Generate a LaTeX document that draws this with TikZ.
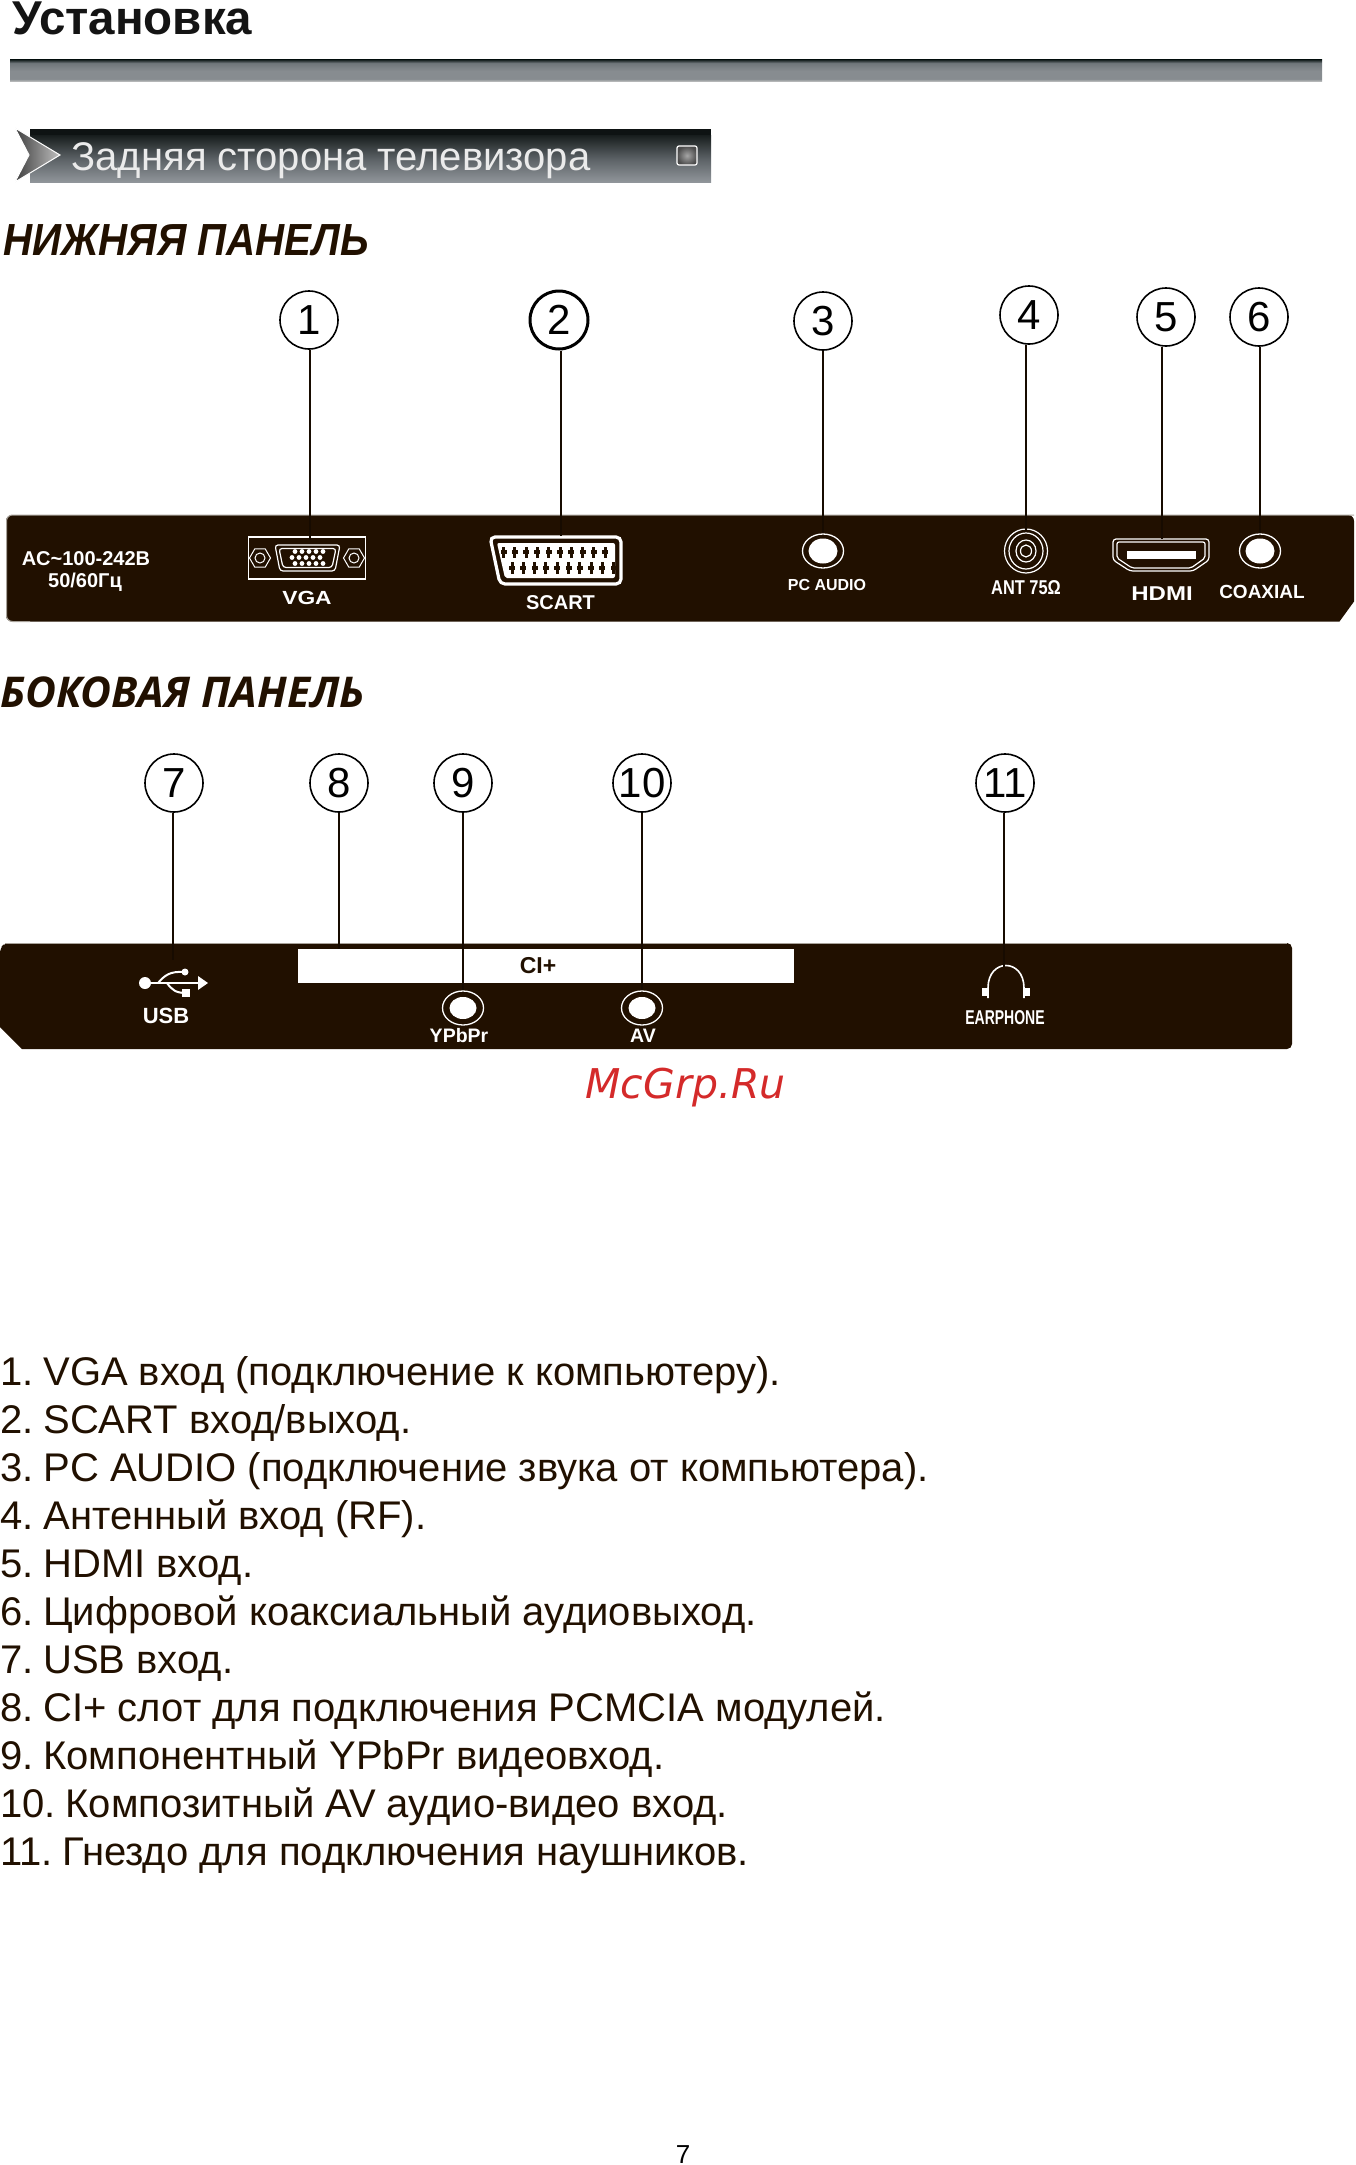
\documentclass[tikz,border=0pt]{standalone}
\usepackage{fontspec}
\usetikzlibrary{shapes.geometric}
\setmainfont{Liberation Sans}
\newfontfamily\tallfont[FakeStretch=.895]{Liberation Sans}
\newfontfamily\narrowfont[FakeStretch=.82]{Liberation Sans}
\newfontfamily\thinfont[FakeStretch=.7]{Liberation Sans}
\newfontfamily\widefont[FakeStretch=1.2]{Liberation Sans}
\newfontfamily\sidefont{Open Sans}
\newfontfamily\markfont{DejaVu Sans}
\newcommand{\pxfont}[1]{\fontsize{#1}{#1}\selectfont}
\definecolor{panel}{HTML}{211000}
\definecolor{edge}{HTML}{A8A29A}
\definecolor{markred}{HTML}{D42A2A}
\definecolor{ruleA}{HTML}{1C2626}
\definecolor{ruleB}{HTML}{6F767A}
\definecolor{ruleC}{HTML}{878C90}
\definecolor{ruleD}{HTML}{CACACA}
\definecolor{bandA}{HTML}{1A2020}
\definecolor{bandB}{HTML}{5C6266}
\definecolor{bandC}{HTML}{90959A}
\pgfdeclareverticalshading{ruleshade}{100bp}{color(0bp)=(ruleD); color(25bp)=(ruleD); color(32bp)=(ruleC); color(50bp)=(ruleC); color(68bp)=(ruleB); color(75bp)=(ruleA); color(100bp)=(ruleA)}
\pgfdeclareverticalshading{bandshade}{100bp}{color(0bp)=(bandC); color(25bp)=(bandC); color(50bp)=(bandB); color(75bp)=(bandA); color(100bp)=(bandA)}
\tikzset{
  callout/.style={draw=black,circle,fill=white,line width=1.6,inner sep=0,minimum size=58,font=\pxfont{42}},
  lead/.style={draw=panel!70!black,line width=2.2},
  heading/.style={anchor=base west,text=panel,font=\tallfont\pxfont{45}\bfseries\itshape},
  item/.style={anchor=base west,text=panel,inner xsep=0,font=\pxfont{40}},
  tag/.style={text=white,inner sep=0,font=\pxfont{20}\bfseries},
  jack/.style={draw=white,ellipse,line width=1.3,fill=panel,inner sep=0,minimum width=41,minimum height=34},
  plug/.style={fill=white,ellipse,inner sep=0,minimum width=29,minimum height=25},
  wire/.style={draw=white,line width=1.2}
}
\begin{document}
\begin{tikzpicture}[x=1pt,y=-1pt]
\useasboundingbox (0,0) rectangle (1356,2165);
\draw (9,35) node[anchor=base west,text=black!92,font=\pxfont{47.5}\bfseries] (title) {Установка};
\shade[shading=ruleshade] (10,60) rectangle (1322,82);
\fill[ruleA!50!black] (30,129) rectangle (711,136);
\shade[shading=bandshade] (30,136) rectangle (711,182);
\shade[left color=black!75,right color=black!25,draw=white,line width=1] (15,128) -- (60,155) -- (15,182) -- (29,155) -- cycle;
\draw (68,170) node[anchor=base west,text=white!92!black,font=\pxfont{40}] (band) {Задняя сторона телевизора};
\shade[inner color=black!35,outer color=black!70,draw=white,line width=1.2,rounded corners=2] (677,146) rectangle (697,165);
\draw (0,255) node[heading] (headA) {НИЖНЯЯ ПАНЕЛЬ};
\draw (0,707) node[heading,inner xsep=0,font=\sidefont\pxfont{42.4}\bfseries\itshape] (headB) {БОКОВАЯ ПАНЕЛЬ};
\fill[panel] [rounded corners=6] (40,621.5) -- (6,621.5) -- (6,515) -- (1354,515) [sharp corners] -- (1354,601.5) -- (1339.5,621.5) -- cycle;
\draw[edge,line width=1,rounded corners=6] (30,621.5) -- (6.5,621.5) -- (6.5,515) -- (1354,515);
\draw (86,559) node[tag] (ac) {AC\textasciitilde100-242В};
\draw (85,582) node[tag] (hz) {50/60Гц};
\draw (307,558) node[draw=white,line width=1.4,inner sep=0,minimum width=117,minimum height=42] (vga) {};
\draw[wire,rounded corners=3] (275,545) -- (340,545) -- (335,571) -- (280,571) -- cycle;
\draw[wire,rounded corners=3] (279,548.5) -- (336,548.5) -- (332,567.5) -- (283,567.5) -- cycle;
\foreach \n in {0,...,4} {
  \fill[white] (295+7*\n,551.5) circle[radius=2.4];
  \fill[white] (292+7*\n,557.5) circle[radius=2.4];
  \fill[white] (295+7*\n,563.5) circle[radius=2.4];
}
\draw (260,558) node[draw=white,regular polygon,regular polygon sides=6,line width=1,inner sep=0,minimum size=21] (nutL) {};
\draw (354,558) node[draw=white,regular polygon,regular polygon sides=6,line width=1,inner sep=0,minimum size=21] (nutR) {};
\draw[white,line width=1] (nutL) circle[radius=5];
\draw[white,line width=1] (nutR) circle[radius=5];
\draw (307,598) node[tag,font=\widefont\pxfont{19}\bfseries] (vgatag) {VGA};
\draw[white,line width=3.2,rounded corners=5] (490,537) -- (621,537) -- (621,584) -- (500,584) -- cycle;
\coordinate (scart) at (561,536);
\fill[white,rounded corners=2] (497,543) -- (615,543) -- (615,578) -- (505,578) -- cycle;
\foreach \n in {0,...,9} {
  \fill[panel] (502+11.3*\n,547) rectangle (505+11.3*\n,558);
  \fill[panel] (500.5+11.3*\n,550) rectangle (506.5+11.3*\n,554);
  \fill[panel] (510.5+11.3*\n,562) rectangle (513.5+11.3*\n,574);
  \fill[panel] (509+11.3*\n,566) rectangle (515+11.3*\n,570);
}
\draw (560.5,602.5) node[tag] (scarttag) {SCART};
\draw (823,551) node[jack] (pc) {};
\draw (pc) node[plug] (pcin) {};
\draw (827,584.5) node[tag,font=\pxfont{16}\bfseries] (pctag) {PC AUDIO};
\draw (1026,551) node[draw=white,ellipse,line width=1.2,fill=panel,inner sep=0,minimum width=43,minimum height=44] (ant) {};
\draw[wire] (ant) ellipse[x radius=17,y radius=18];
\draw[wire] (ant) ellipse[x radius=10,y radius=11];
\draw[wire] (ant) ellipse[x radius=5.5,y radius=6];
\draw (1026,588) node[tag,font=\narrowfont\pxfont{20}\bfseries] (anttag) {ANT 75Ω};
\coordinate (hdmi) at (1162,539);
\draw[wire,rounded corners=3] (1113,539) -- (1209,539) -- (1209,560) -- (1193,571) -- (1130,571) -- (1113,560) -- cycle;
\draw[wire,rounded corners=2] (1117,542) -- (1205,542) -- (1205,558) -- (1191,568) -- (1132,568) -- (1117,558) -- cycle;
\fill[white] (1127,551) rectangle (1196,559);
\draw (1162,593.5) node[tag,font=\widefont\pxfont{20}\bfseries] (hdmitag) {HDMI};
\draw (1260,551) node[jack] (coax) {};
\draw (coax) node[plug] (coaxin) {};
\draw (1262,592) node[tag,font=\pxfont{19}\bfseries] (coaxtag) {COAXIAL};
\draw (309,320) node[callout] (c1) {1};
\draw (559,320) node[callout,line width=3] (c2) {2};
\draw (823,321) node[callout] (c3) {3};
\draw (1029,315) node[callout] (c4) {4};
\draw (1166,317) node[callout] (c5) {5};
\draw (1259,317) node[callout] (c6) {6};
\draw[lead] (c1.south -| 310,0) -- (310,540);
\draw[lead] (c2.south -| scart) -- (scart);
\draw[lead] (c3.south -| pc.north) -- (pc.north);
\draw[lead] (ant.north |- c4.south) -- ([yshift=-3pt]ant.north);
\draw[lead] (c5.south -| hdmi) -- (hdmi);
\draw[lead] (c6.south -| coax.north) -- (coax.north);
\fill[panel] [rounded corners=5] (300,1049) -- (1292,1049) -- (1292,943) -- (5,943) -- (0,948) [sharp corners] -- (0,1027) -- (22,1049) -- cycle;
\draw[edge,line width=1] (5,943) -- (1287,943);
\draw (546,966) node[fill=white,inner sep=0,minimum width=496,minimum height=34] (ci) {};
\draw (538,966) node[tag,text=panel,font=\pxfont{23}\bfseries] (citag) {CI+};
\coordinate (usb) at (173,960);
\fill[white] (145,983) circle[radius=6];
\draw[white,line width=2] (145,983) -- (200,983);
\fill[white] (198,976) -- (208,983) -- (198,990) -- cycle;
\draw[white,line width=2] (158,983) .. controls (165,975) and (170,971) .. (185,972);
\fill[white] (185,972) circle[radius=3.5];
\draw[white,line width=2] (167,983) .. controls (172,990) and (176,993) .. (186,993);
\fill[white] (182,989) rectangle (190,997);
\draw (166,1015.5) node[tag,font=\pxfont{22}\bfseries] (usbtag) {USB};
\draw (463,1008) node[jack] (yp) {};
\draw (yp) node[plug,minimum width=27,minimum height=22] (ypin) {};
\draw (459,1036) node[tag,font=\pxfont{19.5}\bfseries] (yptag) {YPbPr};
\draw (642,1008) node[jack] (av) {};
\draw (av) node[plug,minimum width=27,minimum height=22] (avin) {};
\draw (643,1036) node[tag,font=\pxfont{19.5}\bfseries] (avtag) {AV};
\coordinate (ear) at (1004,967);
\draw[white,line width=1.6] (988,998) -- (988,988) .. controls (988,958) and (1024,958) .. (1024,988) -- (1024,998);
\fill[white] (982,988) rectangle (988,996);
\fill[white] (1024,988) rectangle (1030,996);
\draw (1005,1018) node[tag,font=\thinfont\pxfont{20}\bfseries] (eartag) {EARPHONE};
\draw (174,783) node[callout] (c7) {7};
\draw (339,783) node[callout] (c8) {8};
\draw (463,783) node[callout] (c9) {9};
\draw (642,783) node[callout] (c10) {10};
\draw (1005,783) node[callout] (c11) {11};
\draw[lead] (c7.south -| usb) -- (usb);
\draw[lead] (c8.south -| c8) -- (c8 |- ci.north);
\draw[lead] (c9.south -| yp.north) -- (yp.north);
\draw[lead] (c10.south -| av.north) -- (av.north);
\draw[lead] (c11.south -| ear) -- (ear);
\draw (582,1098) node[anchor=base west,text=markred,font=\markfont\pxfont{41}\itshape] (mark) {McGrp.Ru};
\draw (0,1385) node[item] (item1) {1. \hspace{-5pt}VGA вход (подключение к компьютеру).};
\draw (0,1433) node[item] (item2) {2. \hspace{-5pt}SCART вход/выход.};
\draw (0,1481) node[item] (item3) {3. \hspace{-5pt}PC AUDIO (подключение звука от компьютера).};
\draw (0,1529) node[item] (item4) {4. \hspace{-5pt}Антенный вход (RF).};
\draw (0,1577) node[item] (item5) {5. \hspace{-5pt}HDMI вход.};
\draw (0,1625) node[item] (item6) {6. \hspace{-5pt}Цифровой коаксиальный аудиовыход.};
\draw (0,1673) node[item] (item7) {7. \hspace{-5pt}USB вход.};
\draw (0,1721) node[item] (item8) {8. \hspace{-5pt}CI+ слот для подключения PCMCIA модулей.};
\draw (0,1769) node[item] (item9) {9. \hspace{-5pt}Компонентный YPbPr видеовход.};
\draw (0,1817) node[item] (item10) {10. \hspace{-5pt}Композитный AV аудио-видео вход.};
\draw (0,1865) node[item] (item11) {11. \hspace{-5pt}Гнездо для подключения наушников.};
\draw (683,2155) node[font=\pxfont{26}] (page) {7};
\end{tikzpicture}
\end{document}
